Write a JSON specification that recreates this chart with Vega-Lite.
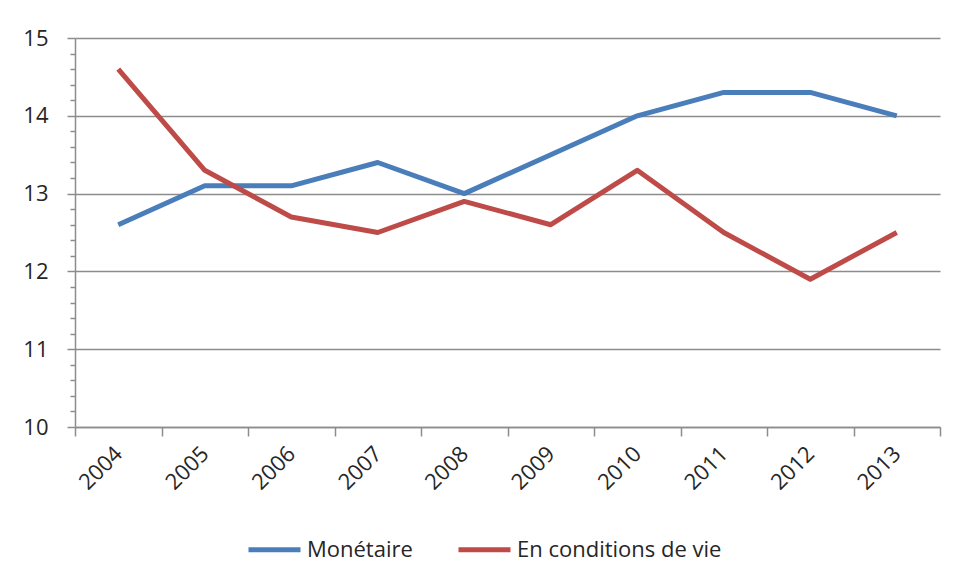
{
  "$schema": "https://vega.github.io/schema/vega-lite/v6.json",
  "autosize": {"type": "none"},
  "padding": {"left": 75, "top": 38, "right": 16, "bottom": 160},
  "width": 865,
  "height": 389,
  "background": "white",
  "config": {
    "font": "Open Sans",
    "view": {"stroke": null},
    "axis": {"labelFont": "Open Sans", "labelFontSize": 22, "labelColor": "#262626", "domainColor": "#8c8c8c", "tickColor": "#8c8c8c", "gridColor": "#8c8c8c", "domainWidth": 1.5, "tickWidth": 1.5, "gridWidth": 1.5}
  },
  "data": {
    "values": [
      {"year": "2004", "serie": "Monétaire", "value": 12.6},
      {"year": "2005", "serie": "Monétaire", "value": 13.1},
      {"year": "2006", "serie": "Monétaire", "value": 13.1},
      {"year": "2007", "serie": "Monétaire", "value": 13.4},
      {"year": "2008", "serie": "Monétaire", "value": 13.0},
      {"year": "2009", "serie": "Monétaire", "value": 13.5},
      {"year": "2010", "serie": "Monétaire", "value": 14.0},
      {"year": "2011", "serie": "Monétaire", "value": 14.3},
      {"year": "2012", "serie": "Monétaire", "value": 14.3},
      {"year": "2013", "serie": "Monétaire", "value": 14.0},
      {"year": "2004", "serie": "En conditions de vie", "value": 14.6},
      {"year": "2005", "serie": "En conditions de vie", "value": 13.3},
      {"year": "2006", "serie": "En conditions de vie", "value": 12.7},
      {"year": "2007", "serie": "En conditions de vie", "value": 12.5},
      {"year": "2008", "serie": "En conditions de vie", "value": 12.9},
      {"year": "2009", "serie": "En conditions de vie", "value": 12.6},
      {"year": "2010", "serie": "En conditions de vie", "value": 13.3},
      {"year": "2011", "serie": "En conditions de vie", "value": 12.5},
      {"year": "2012", "serie": "En conditions de vie", "value": 11.9},
      {"year": "2013", "serie": "En conditions de vie", "value": 12.5}
    ]
  },
  "mark": {"type": "line", "strokeWidth": 5, "strokeJoin": "round"},
  "encoding": {
    "x": {
      "field": "year", "type": "ordinal", "title": null,
      "scale": {"type": "band", "paddingInner": 0, "paddingOuter": 0},
      "axis": {"labelAngle": -45, "labelAlign": "right", "labelBaseline": "middle", "tickBand": "extent", "tickSize": 9, "labelPadding": 14, "grid": false}
    },
    "y": {
      "field": "value", "type": "quantitative", "title": null,
      "scale": {"domain": [10, 15], "nice": false, "zero": false},
      "axis": {
        "values": [10, 10.2, 10.4, 10.6, 10.8, 11, 11.2, 11.4, 11.6, 11.8, 12, 12.2, 12.4, 12.6, 12.8, 13, 13.2, 13.4, 13.6, 13.8, 14, 14.2, 14.4, 14.6, 14.8, 15],
        "labelExpr": "abs(datum.value - round(datum.value)) < 0.01 ? format(datum.value, 'd') : ''",
        "labelOverlap": false,
        "tickSize": {"condition": {"test": "abs(datum.value - round(datum.value)) < 0.01", "value": 8}, "value": 5},
        "gridOpacity": {"condition": {"test": "abs(datum.value - round(datum.value)) < 0.01", "value": 1}, "value": 0},
        "labelPadding": 19,
        "grid": true
      }
    },
    "color": {
      "field": "serie", "type": "nominal", "title": null,
      "scale": {"domain": ["Monétaire", "En conditions de vie"], "range": ["#4a7ebb", "#be4b48"]},
      "legend": {"orient": "none", "legendX": 171, "legendY": 483, "padding": 0, "direction": "horizontal", "symbolType": "stroke", "symbolSize": 2704, "symbolStrokeWidth": 5, "labelFontSize": 22, "labelColor": "#262626", "labelFont": "Open Sans", "labelOffset": 4, "columnPadding": 35, "labelLimit": 400}
    }
  }
}
